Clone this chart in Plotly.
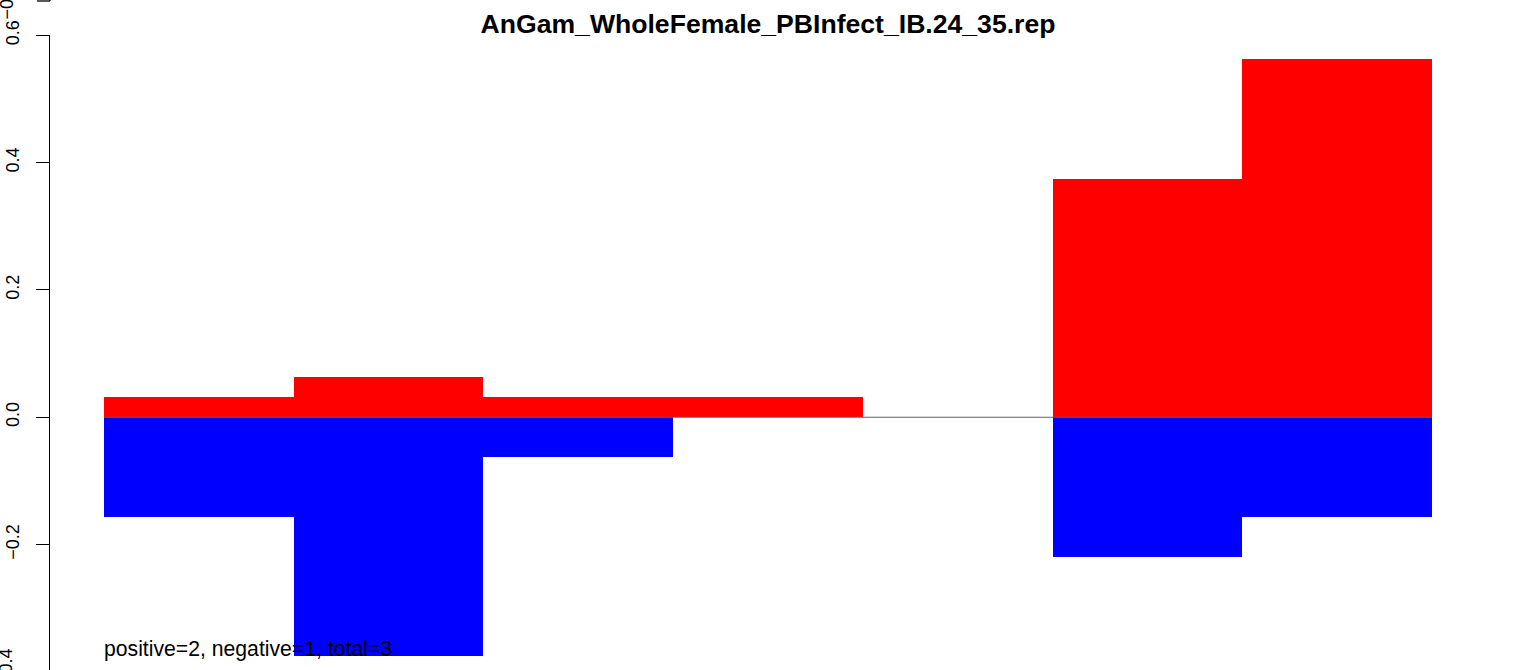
import plotly.graph_objects as go

# bins of the repeat histogram
bin_centers = [0.5, 1.5, 2.5, 3.5, 4.5, 5.5, 6.5]
positive_vals = [0.03125, 0.0625, 0.03125, 0.03125, 0.0, 0.375, 0.5625]
negative_vals = [-0.15625, -0.375, -0.0625, 0.0, 0.0, -0.21875, -0.15625]
tick_vals = [-0.2, 0.0, 0.2, 0.4, 0.6]
tick_text = ["\u22120.2", "0.0", "0.2", "0.4", "0.6"]
title_text = "AnGam_WholeFemale_PBInfect_IB.24_35.rep"
summary_text = "positive=2, negative=1, total=3"

font_family = "Liberation Sans, Arial, Helvetica, sans-serif"

fig = go.Figure()

fig.add_trace(go.Bar(x=bin_centers, y=positive_vals, width=1, marker=dict(color="#ff0000", line=dict(width=0)),
                     showlegend=False))
fig.add_trace(go.Bar(x=bin_centers, y=negative_vals, width=1, marker=dict(color="#0000ff", line=dict(width=0)),
                     showlegend=False))
# baseline at zero
fig.add_trace(go.Scatter(x=[0, 7], y=[0, 0], mode="lines", line=dict(color="#5f5f5f", width=1.2),
                         showlegend=False, hoverinfo="skip"))

fig.update_layout(
    width=1536, height=670,
    margin=dict(l=50, r=0, t=35, b=0, autoexpand=False),
    barmode="overlay",
    bargap=0,
    plot_bgcolor="white", paper_bgcolor="white",
    font=dict(family=font_family, color="black", size=18),
    title=dict(text="<b>" + title_text + "</b>", x=0.5, xref="container", xanchor="center",
               y=1 - 24 / 670, yref="container", yanchor="middle",
               font=dict(size=26.6, family=font_family, color="black")),
    xaxis=dict(range=[-0.285, 7.548], visible=False, fixedrange=True, automargin=False),
    yaxis=dict(range=[-0.397, 0.6005], tickvals=tick_vals, ticktext=tick_text, automargin=False,
               showgrid=False, zeroline=False, showline=True, linecolor="black", linewidth=1.3,
               ticks="outside", ticklen=13, tickwidth=1.3, tickcolor="black", tickangle=-90,
               ticklabelstandoff=10,
               tickfont=dict(size=18, family=font_family, color="black")),
)

# summary counts written inside the plot
fig.add_annotation(x=0, y=-0.364, xref="x", yref="y", text=summary_text, showarrow=False, xshift=-2,
                   xanchor="left", yanchor="middle", font=dict(size=21.2, family=font_family, color="black"))

# tick label for -0.4, sitting on the cropped bottom edge
fig.add_annotation(x=0, y=4 / 635, xref="paper", yref="paper", text="\u22120.4", showarrow=False, textangle=-90,
                   xanchor="right", yanchor="middle", xshift=-32,
                   font=dict(size=18, family=font_family, color="black"))

# remains of the panel above (cropped)
fig.add_annotation(x=0, y=668.5 / 635, xref="paper", yref="paper", text="\u22120.4", showarrow=False,
                   textangle=-90, xanchor="right", yanchor="middle", xshift=-32,
                   font=dict(size=18, family=font_family, color="black"))
fig.add_shape(type="line", xref="paper", yref="paper", x0=-13 / 1486, x1=0, y0=669 / 635, y1=669 / 635,
              line=dict(color="black", width=1.3))
fig.add_shape(type="line", xref="paper", yref="paper", x0=0, x1=0, y0=669 / 635, y1=680 / 635,
              line=dict(color="black", width=1.3))

fig.write_html("out.html", config={"displayModeBar": False},
               post_script="document.body.style.margin='0px';")
